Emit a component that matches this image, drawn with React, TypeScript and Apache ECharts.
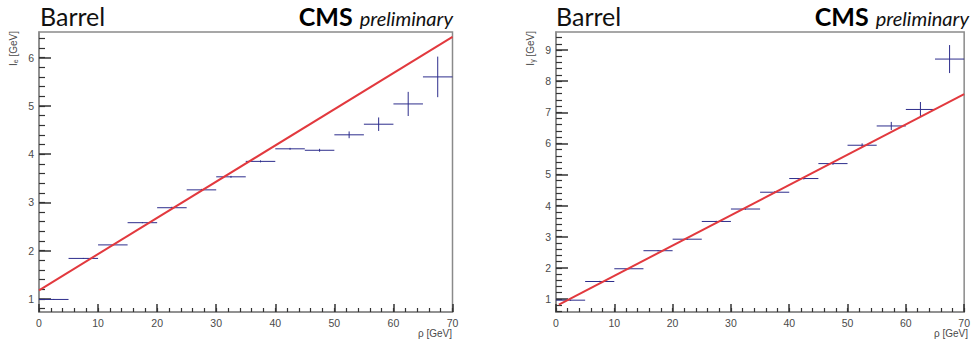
import React, { useEffect, useRef } from "react";
import * as echarts from "echarts";

// ---------- data ----------
const binCenters = [2.5, 7.5, 12.5, 17.5, 22.5, 27.5, 32.5, 37.5, 42.5, 47.5, 52.5, 57.5, 62.5, 67.5];
const binHalfWidth = 2.5;

const electronValues = [0.99, 1.84, 2.12, 2.58, 2.89, 3.26, 3.53, 3.85, 4.11, 4.08, 4.40, 4.62, 5.04, 5.60];
const electronErrors = [0.01, 0.01, 0.01, 0.01, 0.02, 0.02, 0.02, 0.02, 0.02, 0.03, 0.07, 0.14, 0.25, 0.42];
const electronFit = [[0, 1.18], [70, 6.43]];

const photonValues = [0.96, 1.56, 1.97, 2.55, 2.92, 3.49, 3.89, 4.43, 4.87, 5.35, 5.94, 6.56, 7.09, 8.71];
const photonErrors = [0.02, 0.02, 0.02, 0.02, 0.02, 0.02, 0.02, 0.03, 0.03, 0.04, 0.06, 0.13, 0.24, 0.45];
const photonFit = [[0.5, 0.82], [70, 7.58]];

const xMajorTicks = [0, 10, 20, 30, 40, 50, 60, 70];
const leftYMajorTicks = [1, 2, 3, 4, 5, 6];
const rightYMajorTicks = [1, 2, 3, 4, 5, 6, 7, 8, 9];

const range = (a: number, b: number, step: number) => {
  const out: number[] = [];
  for (let v = a; v <= b + 1e-9; v += step) out.push(Math.round(v * 100) / 100);
  return out;
};
const xMinorTicks = range(0, 70, 2);
const leftYMinorTicks = range(0.8, 6.4, 0.2);
const rightYMinorTicks = range(0.6, 9.4, 0.2);

const X_LIM = { min: 0, max: 70 };
const LEFT_Y = { min: 0.73, max: 6.53 };
const RIGHT_Y = { min: 0.58, max: 9.58 };

// ---------- styles ----------
const FRAME = "#8a8a8a";
const LABEL = "#4a4a4a";
const TICK = "#333333";
const CROSS = "#2d2d8c";
const FIT = "#e2393e";

function crossRender(params: any, api: any) {
  const x = api.value(0);
  const y = api.value(1);
  const xe = api.value(2);
  const ye = api.value(3);
  const a = api.coord([x - xe, y]);
  const b = api.coord([x + xe, y]);
  const c = api.coord([x, y - ye]);
  const d = api.coord([x, y + ye]);
  return {
    type: "group",
    children: [
      { type: "line", shape: { x1: a[0], y1: a[1], x2: b[0], y2: b[1] }, style: { stroke: CROSS, lineWidth: 1 } },
      { type: "line", shape: { x1: c[0], y1: c[1], x2: d[0], y2: d[1] }, style: { stroke: CROSS, lineWidth: 1 } },
    ],
  };
}

// ROOT-style inside ticks: rendered by the axes themselves (axisTick.inside)
function xAxes(grid: number) {
  return [
    {
      type: "value", gridIndex: grid, min: X_LIM.min, max: X_LIM.max,
      axisLine: { show: true, lineStyle: { color: FRAME, width: 1.5 } },
      axisTick: { show: true, inside: true, length: 8, customValues: xMajorTicks, lineStyle: { color: TICK, width: 1.5 } },
      axisLabel: { show: true, customValues: xMajorTicks, margin: 5, color: LABEL, fontSize: 10.5, fontFamily: "Liberation Sans" },
      splitLine: { show: false },
    },
    {
      type: "value", gridIndex: grid, min: X_LIM.min, max: X_LIM.max, position: "bottom",
      axisLine: { show: false },
      axisTick: { show: true, inside: true, length: 4, customValues: xMinorTicks, lineStyle: { color: TICK, width: 1.2 } },
      axisLabel: { show: false },
      splitLine: { show: false },
    },
  ];
}

function yAxes(grid: number, lim: { min: number; max: number }, major: number[], minor: number[]) {
  return [
    {
      type: "value", gridIndex: grid, min: lim.min, max: lim.max,
      axisLine: { show: true, lineStyle: { color: FRAME, width: 1.5 } },
      axisTick: { show: true, inside: true, length: 12, customValues: major, lineStyle: { color: TICK, width: 1.5 } },
      axisLabel: { show: true, customValues: major, margin: 5, color: LABEL, fontSize: 10.5, fontFamily: "Liberation Sans" },
      splitLine: { show: false },
    },
    {
      type: "value", gridIndex: grid, min: lim.min, max: lim.max, position: "left",
      axisLine: { show: false },
      axisTick: { show: true, inside: true, length: 6, customValues: minor, lineStyle: { color: TICK, width: 1.2 } },
      axisLabel: { show: false },
      splitLine: { show: false },
    },
  ];
}

function header(left: number, right: number) {
  return [
    {
      type: "text", left: left, top: 3,
      style: { text: "Barrel", fill: "#111", font: "25px Lato" },
    },
    {
      type: "text", right: 973 - right, top: 3,
      style: {
        text: "{a|CMS}{b|preliminary}",
        rich: {
          a: { fontFamily: "Lato", fontWeight: "bold", fontSize: 25, fill: "#000", padding: [0, 7, 0, 0] },
          b: { fontFamily: "Lato", fontStyle: "italic", fontSize: 20, fill: "#111", padding: [4, 0, 0, 0] },
        },
      },
    },
  ];
}

function yTitle(x: number, y: number, sub: string) {
  return {
    type: "text", x: x, y: y, rotation: Math.PI / 2,
    style: {
      text: "{a|I}{b|" + sub + "}{a| [GeV]}",
      align: "right", verticalAlign: "middle",
      rich: {
        a: { fontFamily: "Liberation Sans", fontSize: 10, fill: LABEL },
        b: { fontFamily: "Liberation Sans", fontSize: 7, fill: LABEL, padding: [5, 0, 0, 0] },
      },
    },
  };
}

function xTitle(x: number, y: number) {
  return {
    type: "text", x: x, y: y,
    style: { text: "ρ [GeV]", align: "right", verticalAlign: "middle", fill: LABEL, font: "10px Liberation Sans" },
  };
}

export default function App() {
  const ref = useRef<HTMLDivElement>(null);
  useEffect(() => {
    if (!ref.current) return;
    const chart = echarts.init(ref.current, null, { renderer: "svg" });
    const eData = binCenters.map((x, i) => [x, electronValues[i], binHalfWidth, electronErrors[i]]);
    const gData = binCenters.map((x, i) => [x, photonValues[i], binHalfWidth, photonErrors[i]]);
    chart.setOption({
      animation: false,
      grid: [
        { left: 39, right: 520.5, top: 32, bottom: 31, show: true, borderColor: FRAME, borderWidth: 1.5 },
        { left: 556, right: 4, top: 32, bottom: 31, show: true, borderColor: FRAME, borderWidth: 1.5 },
      ],
      xAxis: [...xAxes(0), ...xAxes(1)],
      yAxis: [
        ...yAxes(0, LEFT_Y, leftYMajorTicks, leftYMinorTicks),
        ...yAxes(1, RIGHT_Y, rightYMajorTicks, rightYMinorTicks),
      ],
      series: [
        { type: "custom", name: "Ie", xAxisIndex: 0, yAxisIndex: 0, renderItem: crossRender, data: eData, z: 3 },
        {
          type: "line", name: "Ie fit", xAxisIndex: 0, yAxisIndex: 0, data: electronFit, showSymbol: false,
          lineStyle: { color: FIT, width: 2 }, z: 4,
        },
        { type: "custom", name: "Igamma", xAxisIndex: 2, yAxisIndex: 2, renderItem: crossRender, data: gData, z: 3 },
        {
          type: "line", name: "Igamma fit", xAxisIndex: 2, yAxisIndex: 2, data: photonFit, showSymbol: false,
          lineStyle: { color: FIT, width: 2 }, z: 4,
        },
      ],
      graphic: [
        ...header(40, 453),
        ...header(556, 969),
        yTitle(13, 31, "e"),
        yTitle(530, 31, "γ"),
        xTitle(452, 333),
        xTitle(968, 333),
      ],
    });
    return () => chart.dispose();
  }, []);
  return <div ref={ref} style={{ position: "absolute", left: 0, top: 0, width: 973, height: 343 }} />;
}
